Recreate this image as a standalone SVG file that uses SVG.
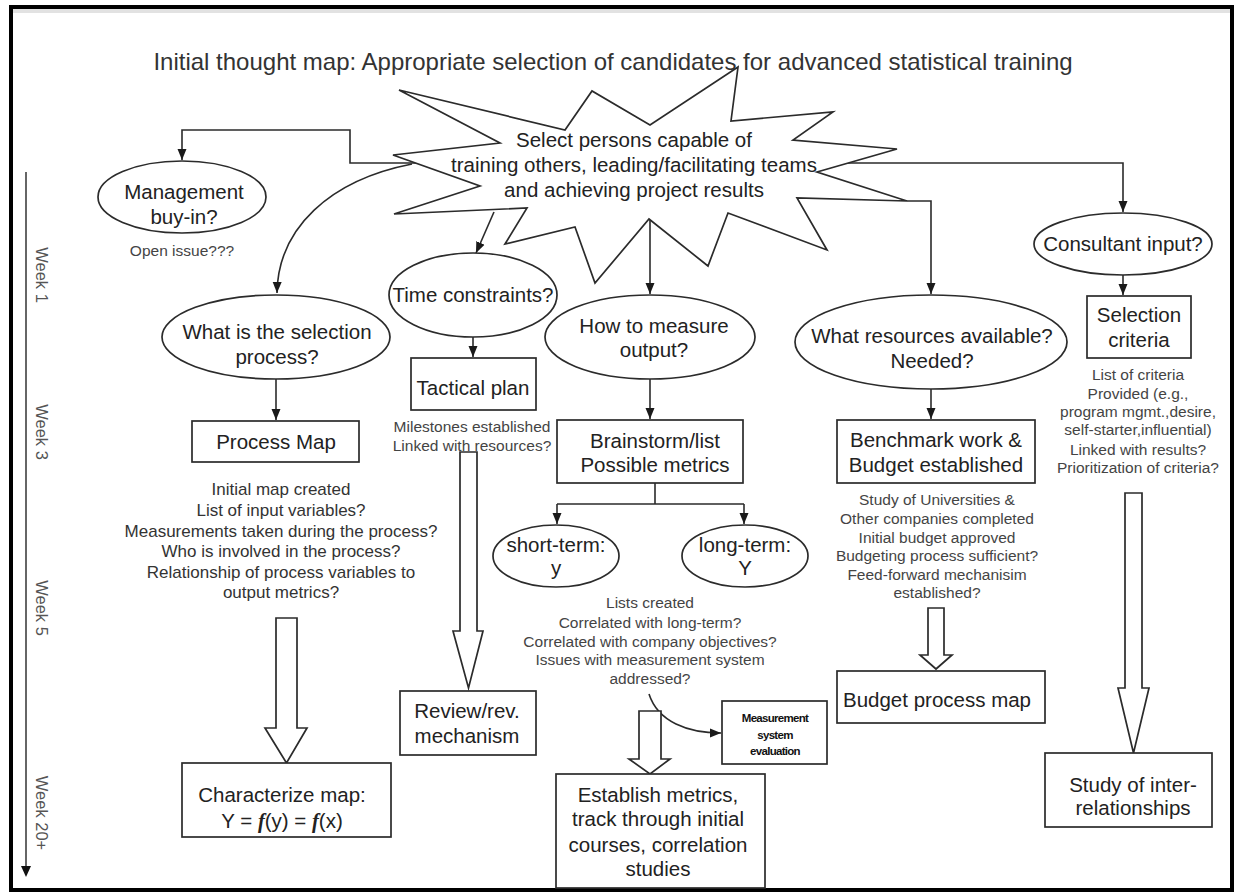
<svg xmlns="http://www.w3.org/2000/svg" width="1236" height="895" viewBox="0 0 1236 895">
  <style>
    .shape { fill: #fff; stroke: #2b2b2b; stroke-width: 1.7; }
    .conn { fill: none; stroke: #2b2b2b; stroke-width: 1.6; }
    .hollow { fill: #fff; stroke: #2b2b2b; stroke-width: 1.7; stroke-linejoin: miter; }
    .lbl { font-family: "Liberation Sans", Arial, sans-serif; font-size: 20.5px; fill: #222; text-anchor: middle; }
    .note { font-family: "Liberation Sans", Arial, sans-serif; font-size: 15.5px; fill: #444; text-anchor: middle; }
    .note-l { font-family: "Liberation Sans", Arial, sans-serif; font-size: 17px; fill: #333; text-anchor: middle; }
    .week { font-family: "Liberation Sans", Arial, sans-serif; font-size: 16.5px; fill: #555; text-anchor: middle; }
    .tiny { font-family: "Liberation Sans", Arial, sans-serif; font-size: 11.5px; font-weight: bold; fill: #111; text-anchor: middle; letter-spacing: -0.7px; }
    .fn { font-family: "Liberation Serif", "Times New Roman", serif; font-weight: bold; font-style: italic; }
  </style>
  <defs>
    <marker id="arrow" markerUnits="userSpaceOnUse" markerWidth="12" markerHeight="12" viewBox="0 0 12 12" refX="11" refY="6" orient="auto">
      <path d="M0,1.5 L11,6 L0,10.5 Z" fill="#1a1a1a"/>
    </marker>
  </defs>

  <!-- page frame -->
  <rect x="0" y="0" width="1236" height="895" fill="#fff"/>
  <rect x="13" y="9" width="1217" height="4" fill="#e2e2e2"/>
  <rect x="11" y="7" width="1221" height="883" fill="none" stroke="#000" stroke-width="4"/>

  <!-- title -->
  <text x="613" y="70" class="lbl" style="font-size:24px; fill:#333">Initial thought map: Appropriate selection of candidates for advanced statistical training</text>

  <!-- timeline axis -->
  <g id="timeline">
    <line x1="26" y1="172" x2="26" y2="868" stroke="#666" stroke-width="2"/>
    <path d="M21,866 L31,866 L26,877 Z" fill="#111"/>
    <text class="week" transform="translate(36,275) rotate(90)">Week 1</text>
    <text class="week" transform="translate(36,432) rotate(90)">Week 3</text>
    <text class="week" transform="translate(36,608) rotate(90)">Week 5</text>
    <text class="week" transform="translate(36,813) rotate(90)">Week 20+</text>
  </g>

  <!-- connectors -->
  <g id="connectors">
    <path class="conn" d="M433,163 L350,163 L350,130 L182,130 L182,160" marker-end="url(#arrow)"/>
    <path class="conn" d="M412,164 C330,180 278,228 277,293" marker-end="url(#arrow)"/>
    <path class="conn" d="M494,212 L476,253" marker-end="url(#arrow)"/>
    <path class="conn" d="M650,219 L650,294" marker-end="url(#arrow)"/>
    <path class="conn" d="M907,201 L931,201 L931,294" marker-end="url(#arrow)"/>
    <path class="conn" d="M839,163 L1123,163 L1123,212" marker-end="url(#arrow)"/>
    <path class="conn" d="M276,378 L276,420" marker-end="url(#arrow)"/>
    <path class="conn" d="M473,337 L473,357" marker-end="url(#arrow)"/>
    <path class="conn" d="M650,379 L650,419" marker-end="url(#arrow)"/>
    <path class="conn" d="M931,389 L931,419" marker-end="url(#arrow)"/>
    <path class="conn" d="M1123,275 L1123,295" marker-end="url(#arrow)"/>
    <path class="conn" d="M655,483 L655,504 M557,504 L744,504"/>
    <path class="conn" d="M557,504 L557,524" marker-end="url(#arrow)"/>
    <path class="conn" d="M744,504 L744,524" marker-end="url(#arrow)"/>
    <path class="conn" d="M649,694 C658,722 688,733 721,733" marker-end="url(#arrow)"/>
    <!-- block arrows -->
    <polygon class="hollow" points="276,618 297,618 297,728 307,728 286.5,763 265,728 276,728"/>
    <polygon class="hollow" points="460,452 477,452 477,631 483,631 468.5,688 453,631 460,631"/>
    <polygon class="hollow" points="639,711 661,711 661,759 670,759 650,774 629,759 639,759"/>
    <polygon class="hollow" points="928,608 944,608 944,655 952,655 936,669 920,655 928,655"/>
    <polygon class="hollow" points="1125,493 1142,493 1142,688 1149,688 1133.5,753 1118,688 1125,688"/>
  </g>

  <!-- central goal -->
  <g id="goal">
    <polygon class="shape" points="399,90 565,130 592,91 650,125 738,67 731,121 833,112 793,140 897,149 817,172 907,201 797,198 827,250 728,213 708,266 649,219 595,283 575,227 505,244 527,208 394,214 480,186 393,155 500,143"/>
    <text class="lbl" x="634" y="147">Select persons capable of</text>
    <text class="lbl" x="634" y="172">training others, leading/facilitating teams</text>
    <text class="lbl" x="634" y="197">and achieving project results</text>
  </g>

  <g id="management">
    <ellipse class="shape" cx="182" cy="197" rx="84" ry="36"/>
    <text class="lbl" x="184" y="199">Management</text>
    <text class="lbl" x="184" y="224">buy-in?</text>
    <text class="note" x="182" y="256">Open issue???</text>
  </g>

  <g id="selection-process">
    <ellipse class="shape" cx="276" cy="337" rx="114" ry="42"/>
    <text class="lbl" x="277" y="339">What is the selection</text>
    <text class="lbl" x="277" y="364">process?</text>
  </g>

  <g id="process-map">
    <rect class="shape" x="192" y="421" width="167" height="41"/>
    <text class="lbl" x="276" y="449">Process Map</text>
    <text class="note-l" x="281" y="495">Initial map created</text>
    <text class="note-l" x="281" y="516">List of input variables?</text>
    <text class="note-l" x="281" y="537">Measurements taken during the process?</text>
    <text class="note-l" x="281" y="557">Who is involved in the process?</text>
    <text class="note-l" x="281" y="578">Relationship of process variables to</text>
    <text class="note-l" x="281" y="598">output metrics?</text>
  </g>

  <g id="characterize-map">
    <rect class="shape" x="182" y="763" width="209" height="74"/>
    <text class="lbl" x="282" y="802">Characterize map:</text>
    <text class="lbl" x="282" y="828">Y = <tspan class="fn">f</tspan>(y) = <tspan class="fn">f</tspan>(x)</text>
  </g>

  <g id="time-constraints">
    <ellipse class="shape" cx="473" cy="295" rx="84" ry="42"/>
    <text class="lbl" x="473" y="302">Time constraints?</text>
  </g>

  <g id="tactical-plan">
    <rect class="shape" x="411" y="358" width="125" height="52"/>
    <text class="lbl" x="473" y="395">Tactical plan</text>
    <text class="note" x="472" y="432">Milestones established</text>
    <text class="note" x="472" y="451">Linked with resources?</text>
  </g>

  <g id="review-mechanism">
    <rect class="shape" x="400" y="691" width="136" height="64"/>
    <text class="lbl" x="467" y="718">Review/rev.</text>
    <text class="lbl" x="467" y="743">mechanism</text>
  </g>

  <g id="measure-output">
    <ellipse class="shape" cx="650" cy="337" rx="105" ry="42"/>
    <text class="lbl" x="654" y="333">How to measure</text>
    <text class="lbl" x="654" y="357">output?</text>
  </g>

  <g id="brainstorm">
    <rect class="shape" x="557" y="420" width="186" height="63"/>
    <text class="lbl" x="655" y="448">Brainstorm/list</text>
    <text class="lbl" x="655" y="472">Possible metrics</text>
  </g>

  <g id="short-term">
    <ellipse class="shape" cx="556" cy="556" rx="63" ry="31"/>
    <text class="lbl" x="556" y="552">short-term:</text>
    <text class="lbl" x="556" y="575">y</text>
  </g>

  <g id="long-term">
    <ellipse class="shape" cx="745" cy="556" rx="63" ry="31"/>
    <text class="lbl" x="745" y="552">long-term:</text>
    <text class="lbl" x="745" y="575">Y</text>
  </g>

  <g id="metric-notes">
    <text class="note" x="650" y="608">Lists created</text>
    <text class="note" x="650" y="628">Correlated with long-term?</text>
    <text class="note" x="650" y="647">Correlated with company objectives?</text>
    <text class="note" x="650" y="665">Issues with measurement system</text>
    <text class="note" x="650" y="684">addressed?</text>
  </g>

  <g id="measurement-evaluation">
    <rect class="shape" x="722" y="701" width="105" height="63"/>
    <text class="tiny" x="775" y="722">Measurement</text>
    <text class="tiny" x="775" y="739">system</text>
    <text class="tiny" x="775" y="755">evaluation</text>
  </g>

  <g id="establish-metrics">
    <rect class="shape" x="556" y="774" width="209" height="114"/>
    <text class="lbl" x="658" y="802">Establish metrics,</text>
    <text class="lbl" x="658" y="826">track through initial</text>
    <text class="lbl" x="658" y="852">courses, correlation</text>
    <text class="lbl" x="658" y="876">studies</text>
  </g>

  <g id="resources">
    <ellipse class="shape" cx="931" cy="342" rx="136" ry="47"/>
    <text class="lbl" x="932" y="343">What resources available?</text>
    <text class="lbl" x="932" y="368">Needed?</text>
  </g>

  <g id="benchmark">
    <rect class="shape" x="837" y="420" width="198" height="63"/>
    <text class="lbl" x="936" y="447">Benchmark work &amp;</text>
    <text class="lbl" x="936" y="472">Budget established</text>
    <text class="note" x="937" y="505">Study of Universities &amp;</text>
    <text class="note" x="937" y="524">Other companies completed</text>
    <text class="note" x="937" y="543">Initial budget approved</text>
    <text class="note" x="937" y="561">Budgeting process sufficient?</text>
    <text class="note" x="937" y="580">Feed-forward mechanisim</text>
    <text class="note" x="937" y="598">established?</text>
  </g>

  <g id="budget-process-map">
    <rect class="shape" x="837" y="671" width="208" height="52"/>
    <text class="lbl" x="937" y="707">Budget process map</text>
  </g>

  <g id="consultant">
    <ellipse class="shape" cx="1123" cy="244" rx="89" ry="31"/>
    <text class="lbl" x="1123" y="251">Consultant input?</text>
  </g>

  <g id="selection-criteria">
    <rect class="shape" x="1087" y="296" width="104" height="62"/>
    <text class="lbl" x="1139" y="322">Selection</text>
    <text class="lbl" x="1139" y="347">criteria</text>
    <text class="note" x="1138" y="380">List of criteria</text>
    <text class="note" x="1138" y="399">Provided (e.g.,</text>
    <text class="note" x="1138" y="417">program mgmt.,desire,</text>
    <text class="note" x="1138" y="435">self-starter,influential)</text>
    <text class="note" x="1138" y="455">Linked with results?</text>
    <text class="note" x="1138" y="473">Prioritization of criteria?</text>
  </g>

  <g id="interrelationships">
    <rect class="shape" x="1045" y="753" width="167" height="74"/>
    <text class="lbl" x="1133" y="792">Study of inter-</text>
    <text class="lbl" x="1133" y="815">relationships</text>
  </g>
</svg>
